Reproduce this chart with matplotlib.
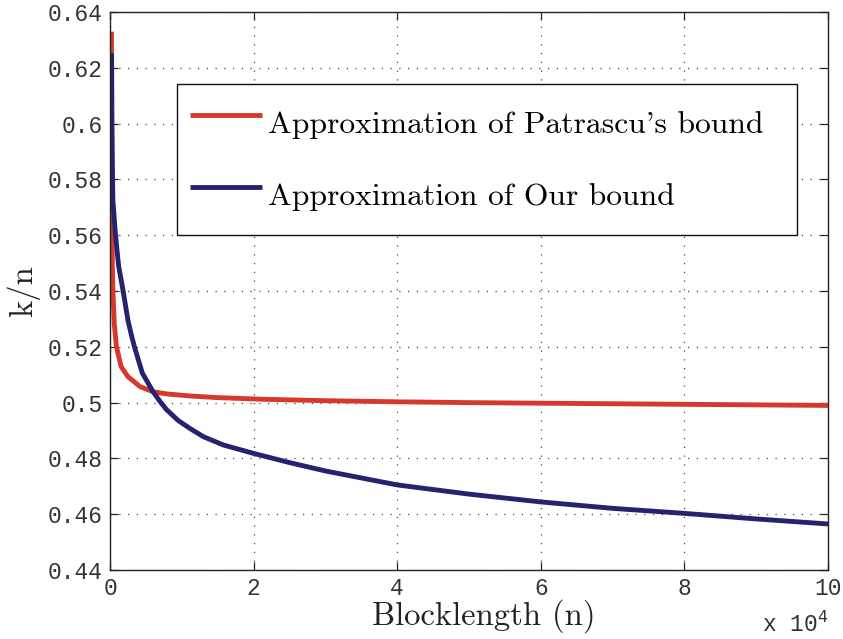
import matplotlib
matplotlib.use("Agg")
import matplotlib.pyplot as plt

# Blocklength n (units of 10^4) and k/n for each bound
patrascu_n = [0.02, 0.022, 0.026, 0.032, 0.04, 0.06, 0.09, 0.155, 0.25, 0.42,
              0.6, 0.8, 1.11, 1.5, 2.14, 3, 4, 5, 6, 7, 8, 9, 10]
patrascu_rate = [0.633, 0.600, 0.570, 0.550, 0.540, 0.528, 0.520, 0.5129, 0.5093,
                 0.5057, 0.5039, 0.5031, 0.5024, 0.5018, 0.5012, 0.5007, 0.5003,
                 0.5000, 0.4998, 0.4996, 0.4994, 0.4992, 0.4990]

our_n = [0.022, 0.027, 0.033, 0.04, 0.074, 0.1, 0.12, 0.18, 0.25, 0.3, 0.34,
         0.45, 0.6, 0.7, 0.79, 0.95, 1.11, 1.3, 1.58, 2, 2.5, 3, 4, 5, 6, 7,
         8, 9, 10]
our_rate = [0.6253, 0.600, 0.585, 0.5726, 0.5607, 0.554, 0.549, 0.5404, 0.5295,
            0.524, 0.520, 0.5106, 0.5039, 0.5003, 0.4974, 0.4936, 0.4908,
            0.4878, 0.4848, 0.4818, 0.4785, 0.4755, 0.4705, 0.4672, 0.4644,
            0.4621, 0.4603, 0.4583, 0.4565]

labels = ["Approximation of Patrascu's bound", "Approximation of Our bound"]
colors = ["#d8382b", "#26236e"]

x_ticks = [0, 2, 4, 6, 8, 10]
y_ticks = [0.44, 0.46, 0.48, 0.5, 0.52, 0.54, 0.56, 0.58, 0.6, 0.62, 0.64]
y_ticklabels = ["0.44", "0.46", "0.48", "0.5", "0.52", "0.54", "0.56",
                "0.58", "0.6", "0.62", "0.64"]

plt.rcParams["axes.formatter.use_mathtext"] = True
serif = "cmr10"
mono = "Liberation Mono"

fig = plt.figure(figsize=(8.43, 6.39), dpi=100)
ax = fig.add_axes([0.1305, 0.108, 0.8517, 0.873])

ax.plot(patrascu_n, patrascu_rate, color=colors[0], lw=3.5, label=labels[0],
        solid_capstyle="butt", solid_joinstyle="round")
ax.plot(our_n, our_rate, color=colors[1], lw=3.5, label=labels[1],
        solid_capstyle="butt", solid_joinstyle="round")

ax.set_xlim(0, 10)
ax.set_ylim(0.44, 0.64)
ax.set_xticks(x_ticks)
ax.set_xticklabels([str(t) for t in x_ticks])
ax.set_yticks(y_ticks)
ax.set_yticklabels(y_ticklabels)

ax.grid(True, linestyle=(0, (1, 6)), color="#444444", lw=0.9)
ax.tick_params(direction="in", length=6, width=0.9, top=True, right=True,
               labelsize=16.5, pad=5, colors="#222222")
for lab in ax.get_xticklabels() + ax.get_yticklabels():
    lab.set_family(mono)
    lab.set_color("#333333")
for sp in ax.spines.values():
    sp.set_linewidth(1.0)
    sp.set_color("#222222")

ax.set_xlabel("Blocklength (n)", fontfamily=serif, fontsize=23.5,
              color="#222222")
ax.xaxis.set_label_coords(0.52, -0.052)
ax.set_ylabel("k/n", fontfamily=serif, fontsize=23.5, labelpad=6, color="#222222")

# MATLAB-style exponent below the right end of the x axis
ax.text(1.0, -0.097, r"x 10$^{4}$", transform=ax.transAxes, ha="right",
        va="center", fontfamily=mono, fontsize=16.5, color="#333333")

leg = ax.legend(loc="upper left", bbox_to_anchor=(0.0933, 0.871, 0.864, 0.0),
                mode="expand", frameon=True, fancybox=False, framealpha=1,
                edgecolor="#111111", prop={"family": serif, "size": 22.8},
                handlelength=2.27, handletextpad=0.19, handleheight=2.2,
                labelspacing=0.6, borderpad=0.4, borderaxespad=0)
leg.get_frame().set_linewidth(1.0)

fig.savefig("out.png", dpi=100)
